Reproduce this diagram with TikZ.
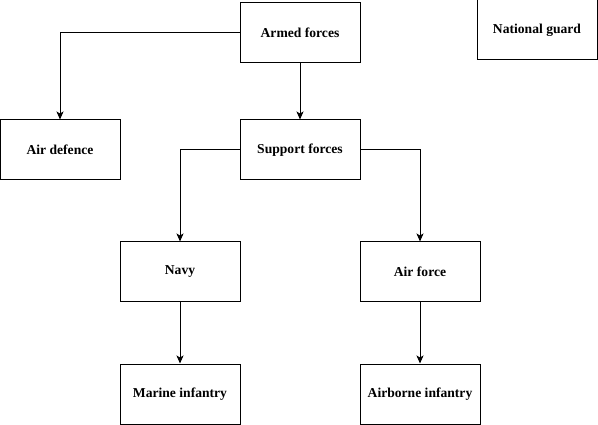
\documentclass[tikz,border=0pt]{standalone}
\usepackage{fontspec}
\setmainfont{Liberation Serif}
\usetikzlibrary{positioning, calc, arrows, arrows.meta}
\tikzset{unit/.style={draw, line width=1pt, minimum width=120pt, minimum height=60pt, inner sep=0pt, font=\fontsize{13.6pt}{16pt}\selectfont\bfseries}}
\tikzset{link/.style={-{Stealth[length=8pt, width=7pt, inset=2pt]}, line width=1pt}}

\begin{document}
\begin{tikzpicture}[x=1pt, y=-1pt]
      \useasboundingbox (0,0) rectangle (598,425);

      \node[unit] (armed) at (300,33) {Armed forces};
      \node[unit] (guard) at (537,30) {National guard};
      \node[unit] (airdef) at (60,150) {Air defence};
      \node[unit] (support) at (300,150) {Support forces};
      \node[unit] (navy) at (180,272) {Navy};
      \node[unit] (airforce) at (420,272) {Air force};
      \node[unit] (marine) at (180,394) {Marine infantry};
      \node[unit] (airborne) at (420,394) {Airborne infantry};

      \draw[link] (armed.west) -| (airdef.north);
      \draw[link] (armed.south) -- (support.north);
      \draw[link] (support.west) -| (navy.north);
      \draw[link] (support.east) -| (airforce.north);
      \draw[link] (navy.south) -- (marine.north);
      \draw[link] (airforce.south) -- (airborne.north);

    \end{tikzpicture}
\end{document}
